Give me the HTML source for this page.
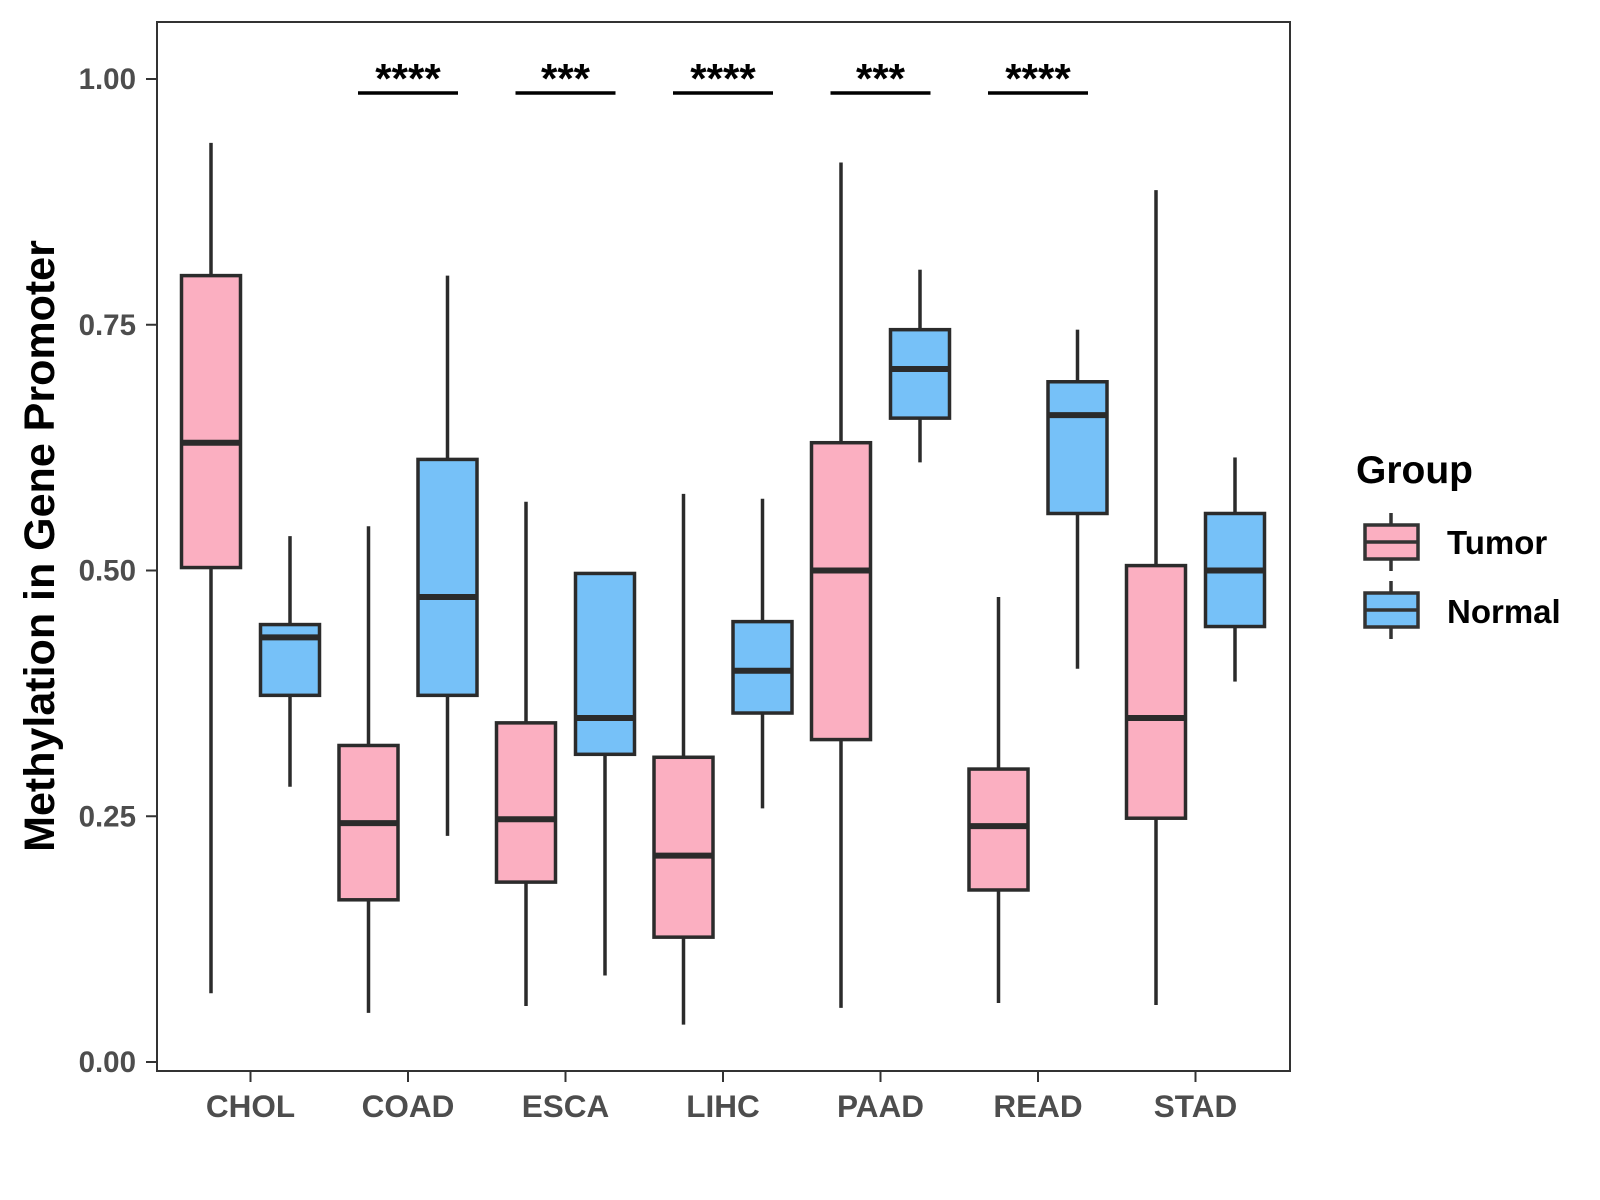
<!DOCTYPE html>
<html><head><meta charset="utf-8"><style>
body{margin:0;background:#fff;}
svg{display:block;font-family:"Liberation Sans",Arial,sans-serif;}
</style></head><body>
<svg id="chart" width="1600" height="1200" viewBox="0 0 1600 1200">
<rect x="157" y="22" width="1133" height="1049" fill="#fff" stroke="#333" stroke-width="2"/>
<g id="marks"></g>
<g id="axes"></g>
<text transform="translate(54,546) rotate(-90)" text-anchor="middle" font-size="43" font-weight="bold" fill="#000">Methylation in Gene Promoter</text>
<g>
<text x="1356" y="483" font-size="39" font-weight="bold">Group</text>
<g>
<line x1="1391" y1="513" x2="1391" y2="571" stroke="#333" stroke-width="3.5"/>
<rect x="1365" y="525" width="53" height="34" fill="#FBAFC1" stroke="#333" stroke-width="3.5"/>
<line x1="1365" y1="542" x2="1418" y2="542" stroke="#333" stroke-width="3.5"/>
<text x="1447" y="554" font-size="33" font-weight="bold">Tumor</text>
</g>
<g>
<line x1="1391" y1="581" x2="1391" y2="639" stroke="#333" stroke-width="3.5"/>
<rect x="1365" y="593" width="53" height="34" fill="#76C1F8" stroke="#333" stroke-width="3.5"/>
<line x1="1365" y1="610" x2="1418" y2="610" stroke="#333" stroke-width="3.5"/>
<text x="1447" y="623" font-size="33" font-weight="bold">Normal</text>
</g>
</g>
</svg>
<script>
const categories=["CHOL","COAD","ESCA","LIHC","PAAD","READ","STAD"];
// [lowWhisker, q1, median, q3, highWhisker]
const tumorStats=[[0.07,0.503,0.63,0.80,0.935],[0.05,0.165,0.243,0.322,0.545],[0.057,0.183,0.247,0.345,0.57],[0.038,0.127,0.21,0.31,0.578],[0.055,0.328,0.50,0.63,0.915],[0.06,0.175,0.24,0.298,0.473],[0.058,0.248,0.35,0.505,0.887]];
const normalStats=[[0.28,0.373,0.432,0.445,0.535],[0.23,0.373,0.473,0.613,0.80],[0.088,0.313,0.35,0.497,0.497],[0.258,0.355,0.398,0.448,0.573],[0.61,0.655,0.705,0.745,0.806],[0.40,0.558,0.658,0.692,0.745],[0.387,0.443,0.50,0.558,0.615]];
const sigLabels=["","****","***","****","***","****",""];
const yTicks=[0,0.25,0.5,0.75,1.0];
const yTickLabels=["0.00","0.25","0.50","0.75","1.00"];
const NS="http://www.w3.org/2000/svg";
const y=v=>1062-v*983;
const x=i=>250.5+i*157.5;
const marks=document.getElementById('marks'),axes=document.getElementById('axes');
function mk(tag,attrs,parent){const e=document.createElementNS(NS,tag);for(const k in attrs)e.setAttribute(k,attrs[k]);parent.appendChild(e);return e;}
function box(cx,s,fill,name){
  const g=mk('g',{},marks);
  
  
  const w=59,st='#2b2b2b';
  mk('line',{x1:cx,x2:cx,y1:y(s[3]),y2:y(s[4]),stroke:st,'stroke-width':3.5},g);
  mk('line',{x1:cx,x2:cx,y1:y(s[1]),y2:y(s[0]),stroke:st,'stroke-width':3.5},g);
  mk('rect',{x:cx-w/2,y:y(s[3]),width:w,height:y(s[1])-y(s[3]),fill:fill,stroke:st,'stroke-width':3.5},g);
  mk('line',{x1:cx-w/2,x2:cx+w/2,y1:y(s[2]),y2:y(s[2]),stroke:st,'stroke-width':6},g);
}
categories.forEach((c,i)=>{
  box(x(i)-39.5,tumorStats[i],'#FBAFC1','box-tumor-'+c.toLowerCase());
  box(x(i)+39.5,normalStats[i],'#76C1F8','box-normal-'+c.toLowerCase());
  if(sigLabels[i]){
    const l=mk('line',{x1:x(i)-50,x2:x(i)+50,y1:93,y2:93,stroke:'#000','stroke-width':3.5},marks);
    
    
    const t=mk('text',{x:x(i),y:93,'text-anchor':'middle','font-size':42,'font-weight':'bold'},marks);
    t.textContent=sigLabels[i];
    
    
  }
  mk('line',{x1:x(i),x2:x(i),y1:1071,y2:1082,stroke:'#333','stroke-width':2},axes);
  const t=mk('text',{x:x(i),y:1117,'text-anchor':'middle','font-size':31.5,'font-weight':'bold',fill:'#4d4d4d'},axes);
  t.textContent=c;
  
  
});
yTicks.forEach((v,i)=>{
  mk('line',{x1:146,x2:157,y1:y(v),y2:y(v),stroke:'#333','stroke-width':2},axes);
  const t=mk('text',{x:136,y:y(v)+10,'text-anchor':'end','font-size':29.5,'font-weight':'bold',fill:'#4d4d4d'},axes);
  t.textContent=yTickLabels[i];
  
  
});
</script>
</body></html>
